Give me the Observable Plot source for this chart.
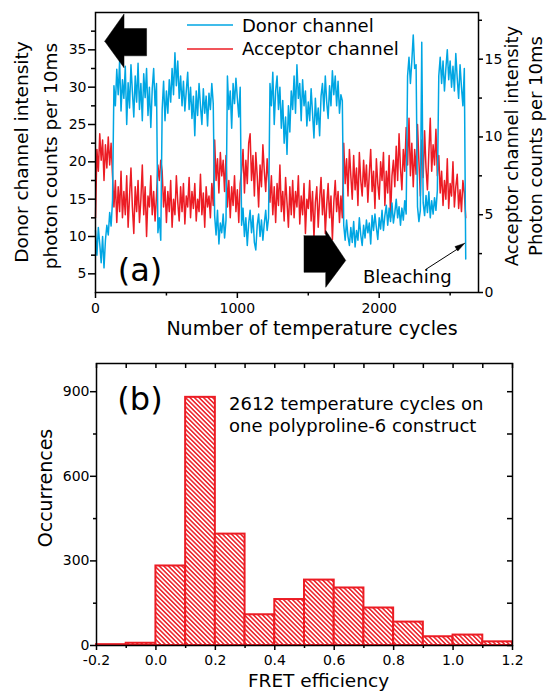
<!DOCTYPE html>
<html><head><meta charset="utf-8">
<script src="https://cdn.jsdelivr.net/npm/d3@7"></script>
<script src="https://cdn.jsdelivr.net/npm/@observablehq/plot@0.6"></script>
<style>
body{margin:0;background:#fff;}
#wrap{position:relative;width:550px;height:692px;overflow:hidden;}
#wrap svg{display:block;}
</style></head><body>
<svg width="0" height="0" style="position:absolute">
<defs><pattern id="hatch" patternUnits="userSpaceOnUse" width="3.2" height="3.2" patternTransform="rotate(-45)">
<rect width="3.2" height="3.2" fill="white"/><line x1="0.8" y1="0" x2="0.8" y2="3.2" stroke="#ec1c24" stroke-width="1.5"/></pattern></defs></svg>
<div id="wrap"></div>
<script>
// ---------- Panel (a) data: sampled every 10 temperature cycles ----------
const cycleStep = 10;
const donor = [
10.8, 7.5, 11.2, 9, 6.5, 10, 5.8, 9.5, 11.5, 10.2,
13.2, 11.4, 14.8, 30.2, 27.5, 32.4, 29, 33.5, 26.8, 31,
28.5, 32.8, 25, 30.6, 27.2, 33, 29.4, 26, 31.5, 28,
33.2, 27, 30.5, 25.5, 31.8, 28.6, 32.5, 26.2, 30, 24.6,
29.8, 32.5, 27.5, 30.5, 10.5, 12.5, 9.5, 27, 30.8, 25.5,
29.5, 26.5, 31, 28, 32.5, 29, 34.6, 30.2, 33.5, 28.5,
31.5, 27.5, 30.8, 26.8, 29.5, 32, 27, 30, 25.8, 28.8,
23.5, 29.5, 26.2, 30.5, 27.5, 25, 29.8, 26.5, 28.8, 24.8,
29.2, 27, 30.5, 27.8, 12.8, 10.2, 13.5, 9, 11.8, 10.5,
13, 9.8, 12.2, 31.5, 27, 29.5, 24.5, 30.5, 27.8, 31.2,
28.5, 26, 30, 11.5, 13.8, 10, 12.5, 8.8, 11.8, 13.5,
10.5, 12.8, 9.2, 8.2, 11.5, 13, 10, 12.2, 9.5, 11.8,
13.5, 10.8, 12.5, 30.5, 27.5, 32, 25, 29.5, 31.5, 27,
30, 24.5, 28.2, 22.5, 26, 21, 27.5, 24, 29.5, 27,
31.5, 26.5, 33, 28.5, 30.5, 25.5, 31, 27.5, 29.5, 24.8,
28, 25.5, 29.8, 26.5, 23.2, 28.5, 25, 27.2, 23.5, 28.8,
30.5, 26.8, 31.5, 28, 25.8, 30.2, 27.5, 32.2, 29, 31.5,
27.5, 30.8, 26.5, 29, 28.2, 11.5, 9.5, 12.2, 10, 8.8,
11.2, 9.2, 12, 8.6, 10.8, 9.5, 12.5, 10.2, 8.8, 11.5,
9.8, 12.2, 10.5, 11.8, 9, 12.8, 10.8, 13, 11.2, 9.6,
12.5, 11, 13.5, 10.8, 12.8, 14.2, 11.5, 13.8, 12, 14.5,
11.8, 13.2, 15, 12.5, 14, 11.5, 13.8, 12.2, 14.8, 13,
31.5, 34, 30.5, 33.5, 37, 32.5, 33, 14, 12, 13.5,
36, 14.5, 12.8, 15.5, 13.2, 16, 12.5, 14.8, 13, 15.2,
13.5, 16.2, 31.5, 34, 30.5, 33.5, 29.5, 32.5, 35, 31,
33.5, 30, 32.8, 29.5, 34.5, 31.2, 28.5, 33, 30, 27.5,
32.5, 7
];
const acceptor = [
4.8, 9.2, 7.8, 10.2, 8.5, 9.8, 7.2, 9.5, 8, 10,
8.2, 9.6, 7.5, 5.5, 7.2, 4.5, 6.8, 5.2, 7.8, 4.8,
6.5, 5, 7.5, 4.2, 6.2, 8, 5.5, 3.8, 6.8, 5.2,
7.2, 4.5, 6, 8.2, 5, 6.8, 3.6, 6.2, 5.5, 7.5,
5, 6.5, 4.6, 6.2, 8.2, 7.2, 8.5, 7.8, 5.5, 6.8,
4.5, 6.5, 5.2, 7.2, 4.2, 6, 5, 7.5, 5.8, 4.6,
6.8, 5.2, 7, 4.4, 6.2, 5.5, 7.4, 4.8, 6.5, 5.4,
7, 4.6, 6, 5.2, 7.6, 5, 6.4, 4.2, 6.8, 5.5,
6.2, 4.8, 7, 5.6, 9.8, 7.2, 8.6, 6.4, 9, 7.5,
8.5, 6.5, 8.8, 5.5, 7.2, 4.8, 6.8, 5.6, 7.5, 5.2,
6.6, 4.5, 7, 7.8, 9.2, 6.4, 8.5, 7, 9.6, 10.2,
7.2, 8.8, 6.2, 9, 7.5, 5.5, 8.2, 6.8, 9.5, 7.8,
6.5, 8.6, 7.2, 5.8, 7.5, 5, 6.8, 4.5, 7, 5.6,
8.2, 5.2, 6.5, 4.6, 7.4, 5.8, 4.2, 6.8, 5, 7.2,
4.8, 6.5, 5.5, 7.5, 4.4, 6.2, 5, 7, 3.8, 6,
5.4, 7.2, 4.6, 6.5, 3.5, 5.8, 6.8, 4.2, 6, 7.4,
5, 6.6, 3.8, 5.6, 7, 4.8, 6.2, 3.4, 5.8, 7.2,
5.2, 6.5, 4.5, 6.2, 4.8, 9.6, 7, 8.6, 6.2, 9.2,
7.5, 6, 8.8, 6.6, 8, 5.6, 9, 7.2, 6.2, 8.5,
6.8, 8.2, 5.8, 7.6, 9.2, 6.5, 7.8, 5.4, 8.6, 7,
6, 8.4, 7.2, 9, 5.6, 7.8, 6.4, 8.8, 4.8, 7.5,
8.5, 6.8, 9.4, 7.2, 10.2, 8, 6.6, 9.2, 7.8, 10.6,
8.2, 11.2, 7.5, 9.6, 6.8, 9.2, 7.6, 10.8, 8.4, 6.2,
9.8, 7.4, 10.4, 8, 6.6, 9, 11.2, 7.8, 9.5, 8.2,
10.5, 7.5, 8.8, 6.4, 7.8, 5.6, 7.2, 6, 8.6, 5.4,
7, 6.2, 8.4, 5.5, 6.8, 7.6, 5.4, 6.6, 5.2, 7.2,
6.4, 4.8
];
const xTicksA = [0, 1000, 2000];
const xMinorA = [500, 1500, 2500];
const donorTicks = [5, 10, 15, 20, 25, 30, 35];
const donorMinor = [7.5, 12.5, 17.5, 22.5, 27.5, 32.5, 37.5];
const acceptorTicks = [0, 5, 10, 15];
const acceptorMinor = [2.5, 7.5, 12.5, 17.5];

// ---------- Panel (b) data: FRET histogram ----------
const binEdges = [-0.2, -0.1, 0.0, 0.1, 0.2, 0.3, 0.4, 0.5, 0.6, 0.7, 0.8, 0.9, 1.0, 1.1, 1.2];
const counts = [3, 8, 282, 880, 395, 109, 163, 232, 204, 133, 83, 31, 37, 13];
const xTicksB = [-0.2, 0.0, 0.2, 0.4, 0.6, 0.8, 1.0, 1.2];
const xMinorB = [-0.1, 0.1, 0.3, 0.5, 0.7, 0.9, 1.1];
const yTicksB = [0, 300, 600, 900];
const yMinorB = [150, 450, 750];

// annotation shapes (data units of panel a)
const leftArrow = [[65,36.15],[201,39.8],[201,37.85],[360,37.85],[360,34.2],[201,34.2],[201,32.6],[65,36.15]];
const rightArrow = [[1470,10.1],[1623,10.1],[1623,10.8],[1764,6.8],[1623,3.2],[1623,5.2],[1470,5.2],[1470,10.1]];
const bleachShaft = [[2329, 5.6], [2550, 8.3]];
const bleachHead = [[2603, 9.1], [2554, 8.05], [2534, 8.65], [2603, 9.1]];

const BLUE = "#00a6e3", RED = "#ec1c24";
const FONT = "DejaVu Sans";
const accToLeft = d3.scaleLinear([0, 18], [2.5, 40]);

const wrap = d3.select("#wrap");

const plotA = Plot.plot({
  width: 550, height: 340,
  marginLeft: 95, marginRight: 72, marginTop: 12, marginBottom: 48,
  style: {fontFamily: FONT, fontSize: "14px", color: "black", background: "transparent", overflow: "visible"},
  x: {domain: [0, 2700]},
  y: {domain: [2.5, 40]},
  marks: [
    Plot.line(acceptor, {x: (d, i) => i * cycleStep, y: d => accToLeft(d), stroke: RED, strokeWidth: 1.5}),
    Plot.line(donor, {x: (d, i) => i * cycleStep, y: d => d, stroke: BLUE, strokeWidth: 1.5}),
    Plot.line(leftArrow, {x: d => d[0], y: d => d[1], fill: "black", stroke: "black", strokeWidth: 0.5}),
    Plot.line(rightArrow, {x: d => d[0], y: d => d[1], fill: "black", stroke: "black", strokeWidth: 0.5}),
    Plot.line(bleachShaft, {x: d => d[0], y: d => d[1], stroke: "black", strokeWidth: 1}),
    Plot.line(bleachHead, {x: d => d[0], y: d => d[1], fill: "black", stroke: "black", strokeWidth: 0.5}),
    Plot.axisX({ticks: xTicksA, tickSize: 6, tickPadding: 5, tickFormat: d => String(d), label: null, strokeWidth: 1.5}),
    Plot.axisX({ticks: xMinorA, tickSize: 3.5, tickFormat: () => "", label: null, strokeWidth: 1.5}),
    Plot.axisY({anchor: "left", ticks: donorTicks, tickSize: 7, tickPadding: 2, label: null, strokeWidth: 1.5}),
    Plot.axisY({anchor: "left", ticks: donorMinor, tickSize: 4, tickFormat: () => "", label: null, strokeWidth: 1.5}),
    Plot.axisY({anchor: "right", ticks: acceptorTicks.map(accToLeft), tickFormat: d => String(Math.round(accToLeft.invert(d))), tickSize: 4, tickPadding: 2, label: null, strokeWidth: 1.5}),
    Plot.axisY({anchor: "right", ticks: acceptorMinor.map(accToLeft), tickSize: 3, tickFormat: () => "", label: null, strokeWidth: 1.5}),
    Plot.frame({stroke: "black", strokeWidth: 1.5})
  ]
});
wrap.node().appendChild(plotA);

const plotB = Plot.plot({
  width: 550, height: 352,
  marginLeft: 96, marginRight: 38, marginTop: 23, marginBottom: 47,
  style: {fontFamily: FONT, fontSize: "14px", color: "black", background: "transparent", overflow: "visible"},
  x: {domain: [-0.2, 1.2]},
  y: {domain: [0, 1000]},
  marks: [
    Plot.rectY(counts, {x1: (d, i) => binEdges[i], x2: (d, i) => binEdges[i + 1], y1: 0, y2: d => d, fill: "url(#hatch)", stroke: RED, strokeWidth: 2, inset: 0}),
    Plot.tickX(xTicksB.concat(xMinorB), {x: d => d, stroke: "black", strokeWidth: 1.5, insetBottom: 277}),
    Plot.tickY(yTicksB.concat(yMinorB), {y: d => d, stroke: "black", strokeWidth: 1.5, insetLeft: 411}),
    Plot.axisX({ticks: xTicksB, tickSize: 5, tickPadding: 5, tickFormat: d => d.toFixed(1), label: null, strokeWidth: 1.5}),
    Plot.axisX({ticks: xMinorB, tickSize: 3, tickFormat: () => "", label: null, strokeWidth: 1.5}),
    Plot.axisY({anchor: "left", ticks: yTicksB, tickSize: 6, tickPadding: 1, label: null, strokeWidth: 1.5}),
    Plot.axisY({anchor: "left", ticks: yMinorB, tickSize: 3, tickFormat: () => "", label: null, strokeWidth: 1.5}),
    Plot.frame({stroke: "black", strokeWidth: 1.5})
  ]
});
wrap.node().appendChild(plotB);

// ---------- text overlays ----------
function addText(svg, x, y, str, opts = {}) {
  const t = d3.select(svg).append("text")
    .attr("x", x).attr("y", y)
    .attr("font-family", FONT)
    .attr("font-size", opts.size || 19)
    .attr("text-anchor", opts.anchor || "start")
    .attr("fill", "black")
    .text(str);
  if (opts.rotate) t.attr("transform", `rotate(${opts.rotate},${x},${y})`);
  return t;
}
const sa = d3.select(plotA);
// legend
sa.append("line").attr("x1", 187).attr("x2", 233).attr("y1", 25).attr("y2", 25).attr("stroke", BLUE).attr("stroke-width", 1.5);
sa.append("line").attr("x1", 187).attr("x2", 233).attr("y1", 49).attr("y2", 49).attr("stroke", RED).attr("stroke-width", 1.5);
addText(plotA, 242, 31.5, "Donor channel", {size: 18});
addText(plotA, 242, 55, "Acceptor channel", {size: 18});
addText(plotA, 140, 281, "(a)", {size: 32, anchor: "middle"});
addText(plotA, 363, 283, "Bleaching", {size: 18});
addText(plotA, 312, 335, "Number of temperature cycles", {size: 19, anchor: "middle"});
addText(plotA, 27.5, 152, "Donor channel intensity", {size: 18.5, anchor: "middle", rotate: -90});
addText(plotA, 57, 156, "photon counts per 10ms", {size: 18.5, anchor: "middle", rotate: -90});
addText(plotA, 517.5, 146, "Acceptor channel intensity", {size: 18, anchor: "middle", rotate: -90});
addText(plotA, 541.5, 146, "Photon counts per 10ms", {size: 18, anchor: "middle", rotate: -90});

addText(plotB, 140, 70, "(b)", {size: 32, anchor: "middle"});
addText(plotB, 229, 70, "2612 temperature cycles on", {size: 18});
addText(plotB, 229, 92, "one polyproline-6 construct", {size: 18});
addText(plotB, 52, 148, "Occurrences", {size: 19, anchor: "middle", rotate: -90});
addText(plotB, 318.5, 346.5, "FRET efficiency", {size: 18.5, anchor: "middle"});
</script>
</body></html>
